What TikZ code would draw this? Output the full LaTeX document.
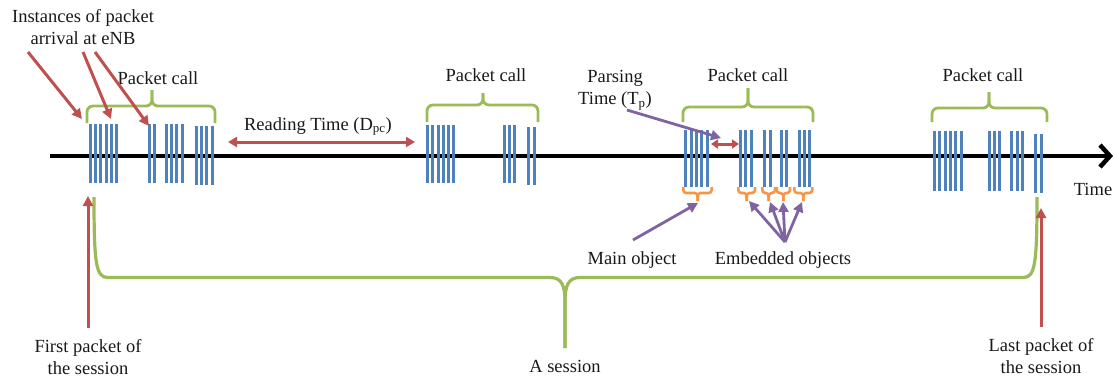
\documentclass[tikz,border=0pt]{standalone}
\usepackage{fontspec}
\setmainfont{Liberation Serif}
\usetikzlibrary{arrows.meta}
\definecolor{barblue}{HTML}{4F81BD}
\definecolor{bracegreen}{HTML}{9BBB59}
\definecolor{arrowred}{HTML}{C0504D}
\definecolor{pointpurple}{HTML}{8064A2}
\definecolor{objorange}{HTML}{F79646}

% vertical packet bars: top, bottom, list of x positions
\newcommand\pktbars[3]{\foreach \bx in {#3}{\draw[bar] (\bx,#1) -- (\bx,#2);}}
% green brace over a packet call: left x, right x, tip x, bar y, end y, tip y
\newcommand\callbrace[6]{%
  \draw[callbr] (#1,#5) -- (#1,#4) -- (#3,#4) -- (#3,#6);
  \draw[callbr] (#3,#6) -- (#3,#4) -- (#2,#4) -- (#2,#5);}
% orange bracket under an object: left x, right x, tip x
\newcommand\objbrace[3]{%
  \draw[objbr] (#1,187) -- (#1,193) -- (#3,193) -- (#3,201);
  \draw[objbr] (#3,201) -- (#3,193) -- (#2,193) -- (#2,187);}

\begin{document}
\begin{tikzpicture}[x=1pt,y=-1pt,
  lbl/.style={font=\fontsize{18.5}{22}\selectfont,text=black!90,inner sep=0pt,align=center},
  bar/.style={draw=barblue,line width=3pt},
  callbr/.style={draw=bracegreen,line width=2.8pt,rounded corners=6pt},
  sessbr/.style={draw=bracegreen,line width=3.2pt},
  objbr/.style={draw=objorange,line width=2.6pt,rounded corners=3pt},
  redarrow/.style={draw=arrowred,line width=3pt,-{Triangle[length=10pt,width=10pt]}},
  twoway/.style={draw=arrowred,line width=3pt,{Triangle[length=9pt,width=10pt]}-{Triangle[length=9pt,width=10pt]}},
  purplearrow/.style={draw=pointpurple,line width=2.8pt,-{Triangle[length=10pt,width=10pt]}},
]
\useasboundingbox (0,0) rectangle (1115,378);

% time axis
\coordinate (axisstart) at (50,156);
\coordinate (axisend) at (1113,156);
\draw[line width=4.5pt,-{Straight Barb[length=10pt,width=22pt]}] (axisstart) -- (axisend);
\node[lbl,anchor=base] (time) at (1093,195) {Time};

% packet call 1
\pktbars{124}{183}{90,95.3,100.7,106,111.3,116.3,149.3,154.7,166,171.3,176.7,182}
\pktbars{126}{185}{196,201.3,206.7,212}
% packet call 2
\pktbars{125}{183}{427.3,432.7,438,443.3,448.7,453.3,504,509.3,514.7}
\pktbars{127}{185}{528.7,534.7}
% packet call 3
\pktbars{130}{187}{685.7,691,696.3,701.7,707,740,745.3,751,764.3,770,781,786.3,799,804.3,809.7}
% packet call 4
\pktbars{131}{190.5}{934.3,939.7,945,950.3,955.7,961,989,994.3,999.7,1011.7,1017,1022.3}
\pktbars{134}{192.7}{1035,1041}

% packet call braces and labels
\callbrace{87}{215}{152}{106}{123}{90}
\callbrace{427}{538}{483}{105}{122}{93}
\callbrace{683}{813}{748}{107}{122}{88}
\callbrace{932}{1047}{989}{108}{122}{92}
\node[lbl,anchor=base] (pc1) at (158,84) {Packet call};
\node[lbl,anchor=base] (pc2) at (486,81) {Packet call};
\node[lbl,anchor=base] (pc3) at (748,81) {Packet call};
\node[lbl,anchor=base] (pc4) at (983,81) {Packet call};

% arrival instances
\node[lbl] (inst) at (83,27) {Instances of packet\\arrival at eNB};
\coordinate (i1) at (28,52);  \coordinate (t1) at (82,119);
\coordinate (i2) at (83,52);  \coordinate (t2) at (111,119);
\coordinate (i3) at (95,52);  \coordinate (t3) at (149,126);
\draw[redarrow] (i1) -- (t1);
\draw[redarrow] (i2) -- (t2);
\draw[redarrow] (i3) -- (t3);

% reading time
\node[lbl,anchor=base] (read) at (318,130) {Reading Time (D\textsubscript{pc})};
\coordinate (r1) at (228,142); \coordinate (r2) at (415,142);
\draw[twoway] (r1) -- (r2);

% parsing time
\node[lbl] (parse) at (615,90) {Parsing\\Time (T\textsubscript{p})};
\coordinate (p1) at (711,144); \coordinate (p2) at (739,144);
\draw[twoway,{Triangle[length=7pt,width=9pt]}-{Triangle[length=7pt,width=9pt]}] (p1) -- (p2);
\coordinate (pfrom) at (627,110); \coordinate (pto) at (721,138);
\draw[purplearrow] (pfrom) -- (pto);

% objects
\objbrace{683.3}{711.7}{697.7}
\objbrace{738.3}{755}{746.7}
\objbrace{762.3}{775}{768.7}
\objbrace{776.7}{790}{783.3}
\objbrace{794.3}{812.3}{803.3}
\node[lbl,anchor=base] (mainobj) at (632,264) {Main object};
\node[lbl,anchor=base] (embobj) at (783,264) {Embedded objects};
\coordinate (mfrom) at (633,240); \coordinate (mto) at (698,203);
\draw[purplearrow] (mfrom) -- (mto);
\coordinate (efrom) at (785,242);
\coordinate (e1) at (749,201); \coordinate (e2) at (770,202);
\coordinate (e3) at (783,202); \coordinate (e4) at (802,202);
\foreach \e in {e1,e2,e3,e4} \draw[purplearrow] (efrom) -- (\e);

% session brace
\coordinate (sessl) at (94,197);
\coordinate (sessr) at (1037,197);
\coordinate (sesstip) at (565,348);
\draw[sessbr] (sessl) .. controls (94,265) and (96,277.5) .. (108,277.5) -- (550,277.5)
  .. controls (562,277.5) and (565,286) .. (565,302) -- (sesstip);
\draw[sessbr] (sesstip) -- (565,302) .. controls (565,286) and (568,277.5) .. (580,277.5)
  -- (1023,277.5) .. controls (1035,277.5) and (1037,265) .. (sessr);
\node[lbl,anchor=base] (session) at (565,372) {A session};

% first and last packet
\node[lbl] (first) at (88,357) {First packet of\\the session};
\node[lbl] (last) at (1041,356) {Last packet of\\the session};
\coordinate (fbase) at (88,328);
\coordinate (ftip) at (88,196);
\coordinate (lbase) at (1041,327);
\coordinate (ltip) at (1041,208);
\draw[redarrow] (fbase) -- (ftip);
\draw[redarrow] (lbase) -- (ltip);
\end{tikzpicture}
\end{document}
